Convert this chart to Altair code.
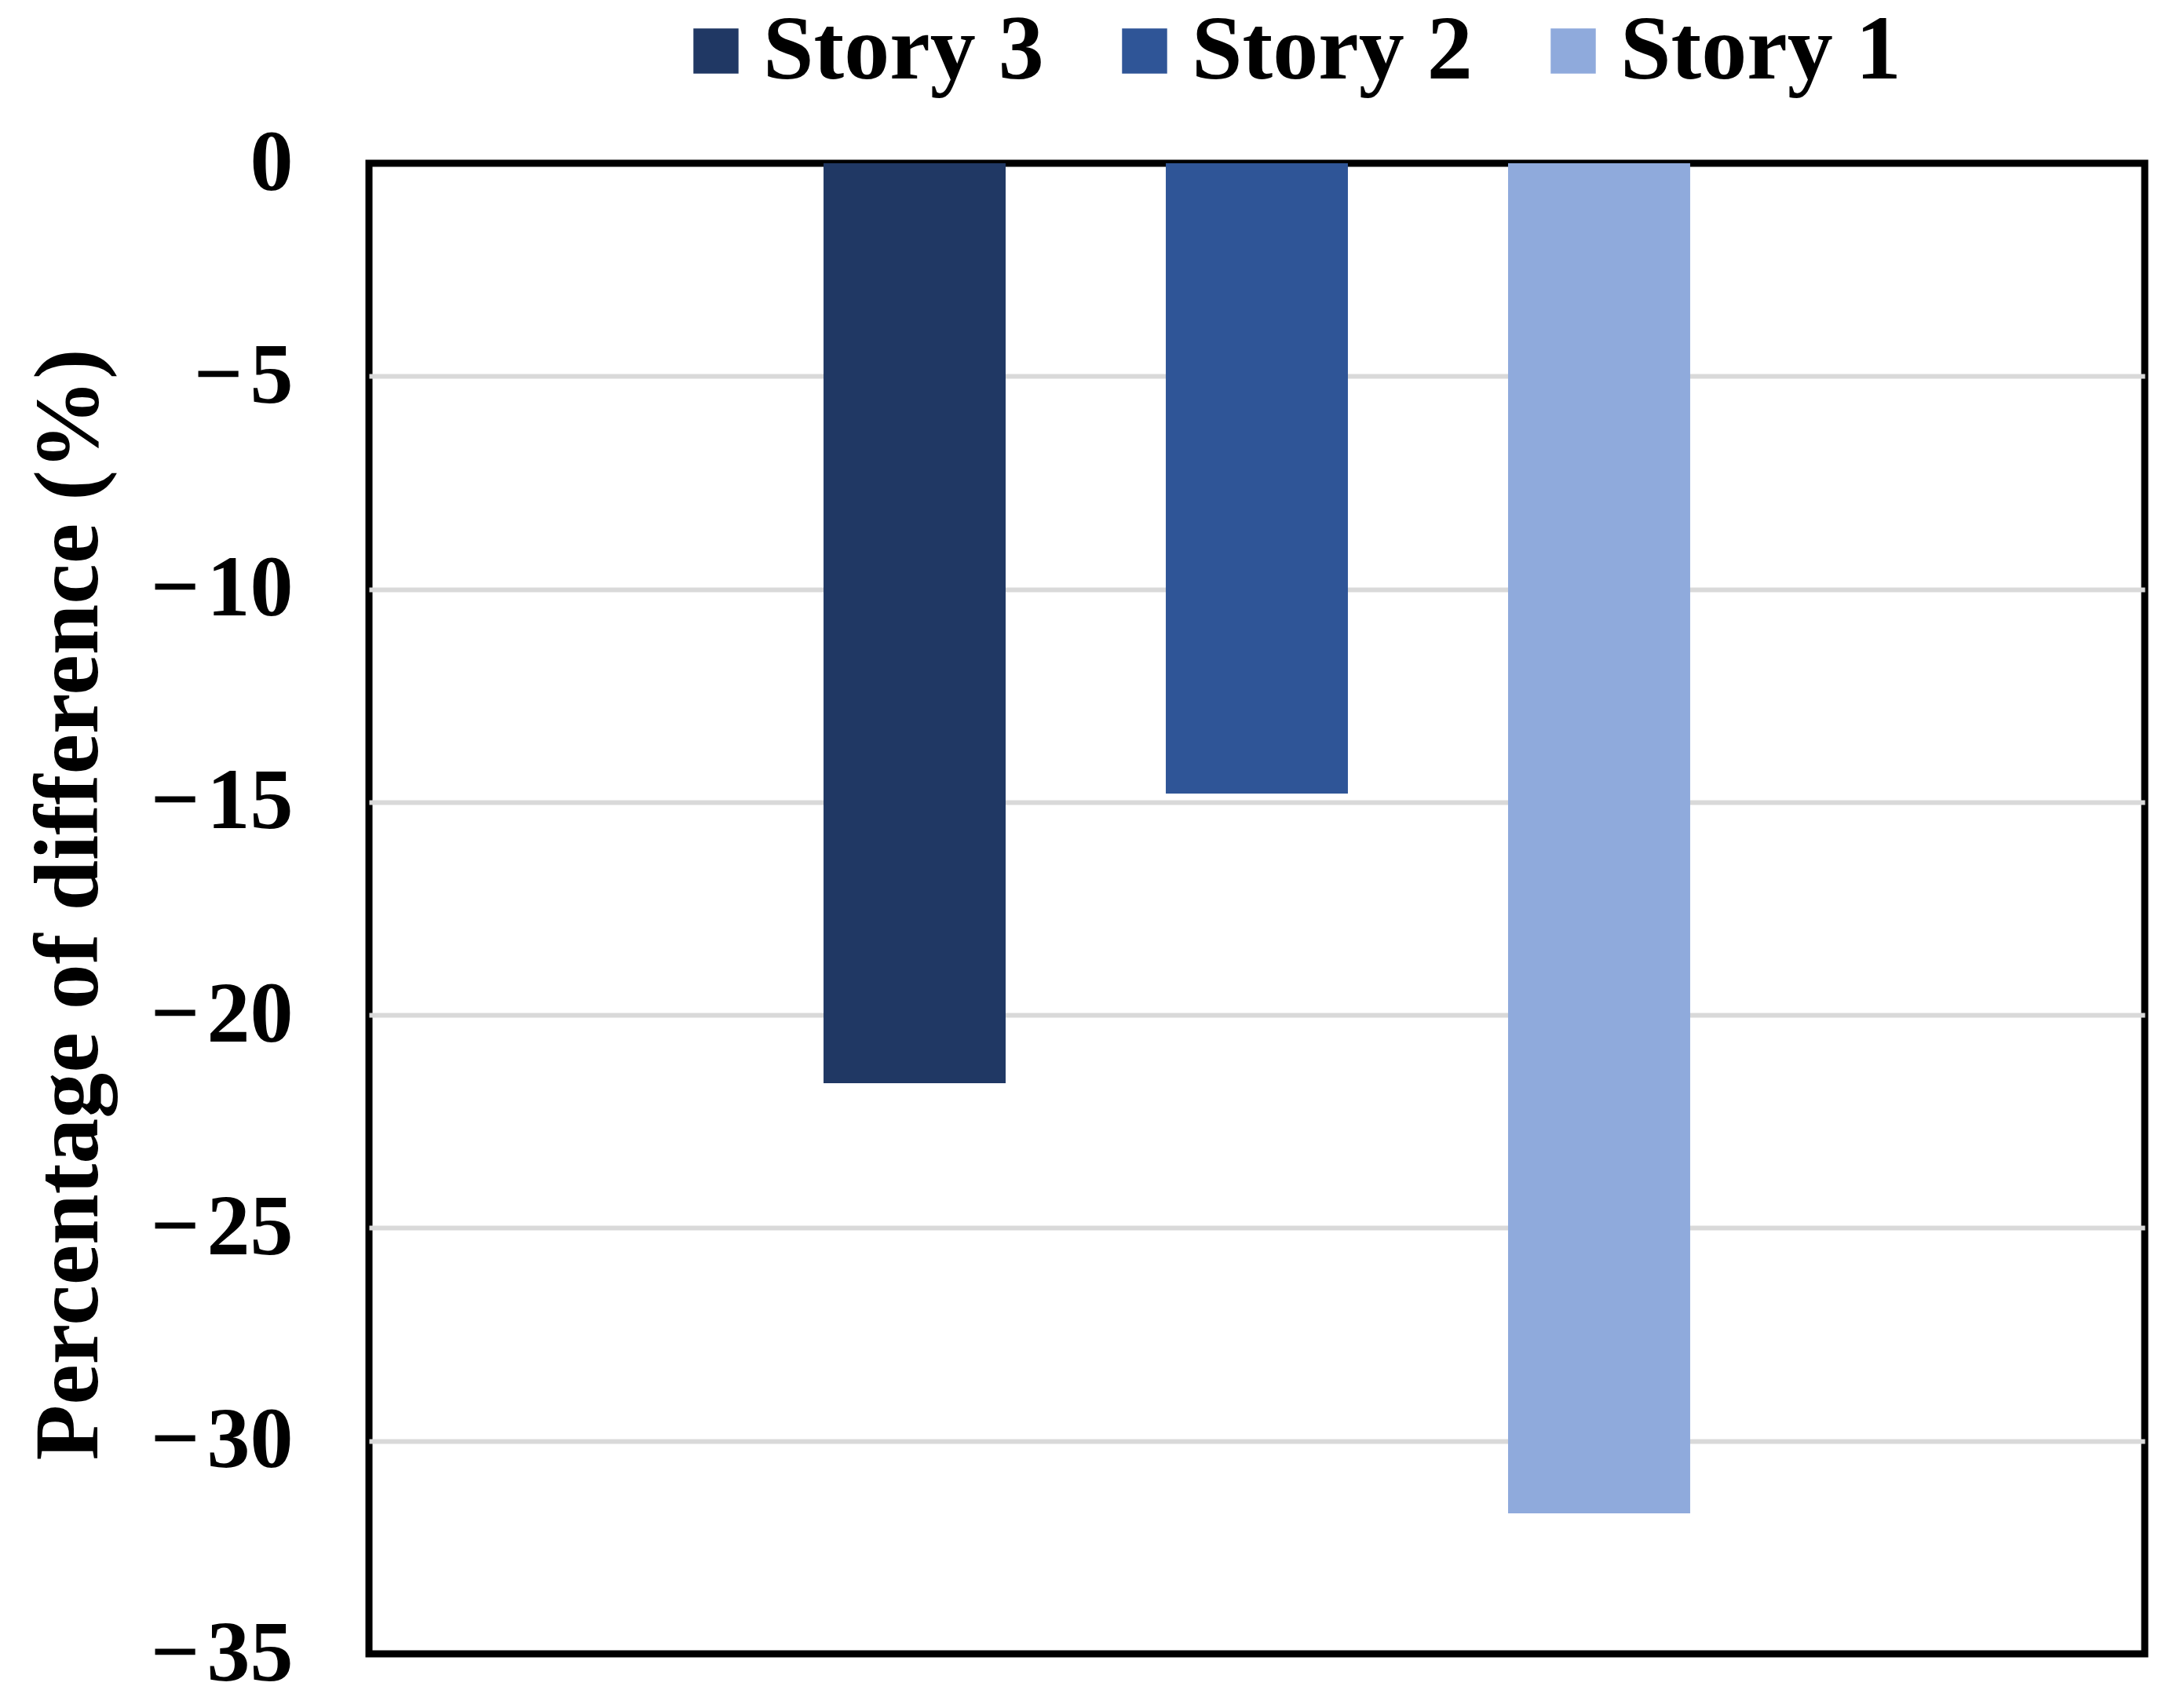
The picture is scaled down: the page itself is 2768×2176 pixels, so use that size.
import altair as alt
import pandas as pd

stories = ["Story 3", "Story 2", "Story 1"]
values = [-21.6, -14.8, -31.7]
colors = ["#203864", "#2F5597", "#8FAADC"]
y_ticks = [0, -5, -10, -15, -20, -25, -30, -35]

df = pd.DataFrame({"group": ["all"] * len(stories), "story": stories, "value": values})

FONT = "Liberation Serif"

chart = alt.Chart(df).mark_bar().encode(
    x=alt.X("group:N", axis=None,
            scale=alt.Scale(paddingInner=0, paddingOuter=0.0724)),
    xOffset=alt.XOffset("story:N", sort=stories,
                        scale=alt.Scale(paddingInner=0.468, paddingOuter=1)),
    y=alt.Y("value:Q",
            scale=alt.Scale(domain=[-35, 0], nice=False, zero=True),
            axis=alt.Axis(values=y_ticks, title="Percentage of difference (%)",
                          titleFont=FONT, titleFontSize=116, titleFontWeight="bold",
                          titleColor="black", titleX=-382, titleY=944,
                          titleAngle=270, titleAlign="center", titleBaseline="middle",
                          titleLimit=0,
                          labelFont=FONT, labelFontSize=110, labelFontWeight="bold",
                          labelColor="black", labelPadding=97, labelLimit=0,
                          labelExpr="replace(datum.label, '\u2212', '\u2212\u200a')",
                          grid=True, gridColor="#D9D9D9", gridWidth=6,
                          gridOpacity=alt.condition("datum.value == 0 || datum.value == -35",
                                                    alt.value(0), alt.value(1)),
                          domain=False, ticks=False)),
    color=alt.Color("story:N", sort=stories,
                    scale=alt.Scale(domain=stories, range=colors),
                    legend=alt.Legend(title=None, orient="none", direction="horizontal",
                                      legendX=384, legendY=-201,
                                      symbolType="square", symbolSize=3300,
                                      symbolStrokeWidth=0,
                                      labelFont=FONT, labelFontSize=116,
                                      labelFontWeight="bold", labelColor="black",
                                      labelOffset=2, columnPadding=70,
                                      labelLimit=0)),
).properties(
    width=2262, height=1899,
    autosize=alt.AutoSizeParams(type="none"),
    padding={"left": 462, "top": 200, "right": 20, "bottom": 60},
).configure(
    background="white",
    view=alt.ViewConfig(stroke="black", strokeWidth=9),
)

chart.save("out.html", embed_options={"renderer": "svg", "actions": False})
